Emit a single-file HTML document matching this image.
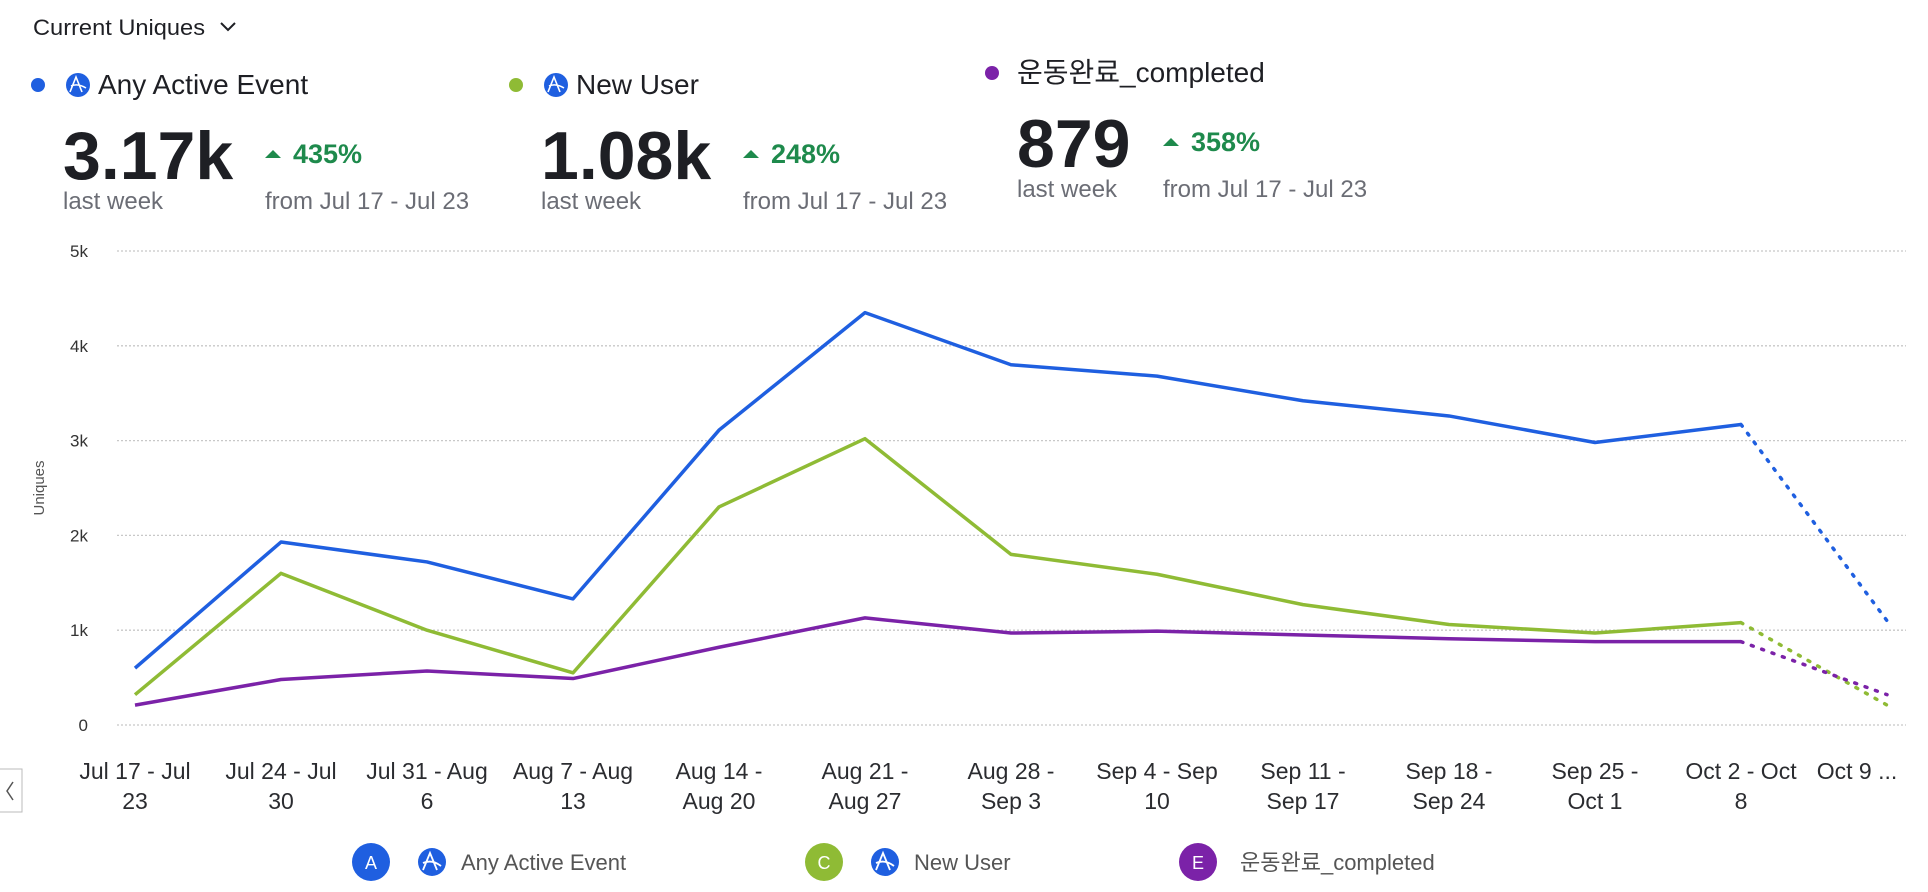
<!DOCTYPE html>
<html><head><meta charset="utf-8">
<style>
html,body{margin:0;padding:0;background:#fff;width:1928px;height:892px;overflow:hidden}
svg text{font-family:"Liberation Sans","Noto Sans CJK KR",sans-serif}
</style></head>
<body>
<svg id="chart" width="1928" height="892" viewBox="0 0 1928 892" xmlns="http://www.w3.org/2000/svg">
  <g>
    <text x="33" y="35" font-size="22" fill="#1e1f24" textLength="172" lengthAdjust="spacingAndGlyphs">Current Uniques</text>
    <path d="M221 23 l7 7 l7 -7" stroke="#1e1f24" stroke-width="2" fill="none"/>
  </g>
  <g id="summary"></g>
  <g id="grid"></g>
  <g id="yaxis"></g>
  <text x="0" y="0" font-size="15" fill="#555" text-anchor="middle" transform="translate(44,488) rotate(-90)">Uniques</text>
  <g id="xaxis"></g>
  <g id="series"></g>
  <g id="legend"></g>
  <g>
    <rect x="-2" y="769" width="24" height="43" fill="#fff" stroke="#bbb"/>
    <path d="M13 782 l-6 9 l6 9" stroke="#555" stroke-width="1.5" fill="none"/>
  </g>
</svg>
<script>
const categories = [["Jul 17 - Jul","23"],["Jul 24 - Jul","30"],["Jul 31 - Aug","6"],["Aug 7 - Aug","13"],["Aug 14 -","Aug 20"],["Aug 21 -","Aug 27"],["Aug 28 -","Sep 3"],["Sep 4 - Sep","10"],["Sep 11 -","Sep 17"],["Sep 18 -","Sep 24"],["Sep 25 -","Oct 1"],["Oct 2 - Oct","8"],["Oct 9 ...",""]];
const anyActive = [600,1930,1720,1330,3110,4350,3800,3680,3420,3260,2980,3170,1100];
const newUser = [320,1600,1000,550,2300,3020,1800,1590,1270,1060,970,1080,210];
const completed = [210,480,570,490,820,1130,970,990,950,910,880,879,320];
const yTicks = [0,1000,2000,3000,4000,5000];
const yTickLabels = ["0","1k","2k","3k","4k","5k"];
const seriesNames = ["Any Active Event","New User","운동완료_completed"];
const seriesLetters = ["A","C","E"];
const summaryValues = ["3.17k","1.08k","879"];
const summaryChanges = ["435%","248%","358%"];
const colors = ["#1f5fe0","#8fbb35","#7b22a8"];

const NS="http://www.w3.org/2000/svg";
const X0=135, X1=1887, Y0=725, Y1=251, YMAX=5000;
function xScale(i){return X0+(X1-X0)*i/(categories.length-1);}
function yScale(v){return Y0-(Y0-Y1)*v/YMAX;}
function mk(tag,attrs,parent){const e=document.createElementNS(NS,tag);for(const k in attrs)e.setAttribute(k,attrs[k]);parent.appendChild(e);return e;}

const summary=document.getElementById('summary');
const offs=[{x:0,y:0},{x:478,y:0},{x:954,y:-12}];
summaryValues.forEach((v,i)=>{
  const o=offs[i];
  const g=mk('g',{},summary);
  
  
  const dot=mk('circle',{cx:38+o.x,cy:85+o.y,r:7,fill:colors[i]},g);
  
  
  if(i<2){
    const ic=mk('g',{},g);
    
    
    mk('circle',{cx:78+o.x,cy:85+o.y,r:12,fill:"#1f5fe0"},ic);
    mk('path',{d:`M${70+o.x} ${92+o.y} L${76+o.x} ${77+o.y} L${82+o.x} ${92+o.y} M${71+o.x} ${86+o.y} Q${78+o.x} ${83+o.y} ${86+o.x} ${88+o.y}`,stroke:"#fff","stroke-width":1.6,fill:"none"},ic);
  }
  const nx = i<2 ? 98+o.x : 1017;
  const t=mk('text',{x:nx,y:94+o.y,"font-size":28,fill:"#1e1f24"},g);t.textContent=seriesNames[i];
  
  
  const bx = i<2 ? 63+o.x : 1017;
  const big=mk('text',{x:bx,y:179+o.y,"font-size":68,"font-weight":"bold",fill:"#1e1f24"},g);big.textContent=v;
  
  
  const px = i===0?265:(i===1?743:1163);
  mk('path',{d:`M${px} ${158+o.y} L${px+8} ${150+o.y} L${px+16} ${158+o.y} Z`,fill:"#1e8a4c"},g);
  const pc=mk('text',{x:px+28,y:163+o.y,"font-size":27,"font-weight":"bold",fill:"#1e8a4c"},g);pc.textContent=summaryChanges[i];
  
  
  const lw=mk('text',{x:bx,y:209+o.y,"font-size":24,fill:"#6b6d75"},g);lw.textContent="last week";
  
  
  const fr=mk('text',{x:px,y:209+o.y,"font-size":24,fill:"#6b6d75"},g);fr.textContent="from Jul 17 - Jul 23";
  
  
});

const grid=document.getElementById('grid'), yaxis=document.getElementById('yaxis');
yTicks.forEach((v,i)=>{
  const l=mk('line',{x1:117,x2:1906,y1:yScale(v),y2:yScale(v),stroke:"#c8c8c8","stroke-width":1.3,"stroke-dasharray":"2 2"},grid);
  
  
  const t=mk('text',{x:88,y:yScale(v)+6,"font-size":17,fill:"#333","text-anchor":"end"},yaxis);
  t.textContent=yTickLabels[i];
  
  
});

const xaxis=document.getElementById('xaxis');
categories.forEach((c,i)=>{
  let cx=xScale(i); if(i===categories.length-1) cx-=30;
  const t=mk('text',{x:cx,y:779,"font-size":23,fill:"#2b2c30","text-anchor":"middle"},xaxis);
  
  
  mk('tspan',{x:cx,dy:0},t).textContent=c[0];
  if(c[1]) mk('tspan',{x:cx,dy:30},t).textContent=c[1];
});

const series=document.getElementById('series');
[anyActive,newUser,completed].forEach((vals,s)=>{
  const n=vals.length;
  const solid=vals.slice(0,n-1).map((v,i)=>`${i?'L':'M'}${xScale(i)} ${yScale(v)}`).join(' ');
  const p=mk('path',{d:solid,stroke:colors[s],"stroke-width":3.5,fill:"none","stroke-linejoin":"round"},series);
  
  
  const d=mk('path',{d:`M${xScale(n-2)} ${yScale(vals[n-2])} L${xScale(n-1)} ${yScale(vals[n-1])}`,stroke:colors[s],"stroke-width":3.5,fill:"none","stroke-dasharray":"2 9","stroke-linecap":"round"},series);
  
  
});

const legend=document.getElementById('legend');
const lx=[371,824,1198];
seriesNames.forEach((nm,i)=>{
  const g=mk('g',{},legend);
  
  
  mk('circle',{cx:lx[i],cy:862,r:19,fill:colors[i]},g);
  mk('text',{x:lx[i],y:869,"font-size":18,fill:"#fff","text-anchor":"middle"},g).textContent=seriesLetters[i];
  let tx=lx[i]+42;
  if(i<2){
    mk('circle',{cx:lx[i]+61,cy:862,r:14,fill:"#1f5fe0"},g);
    mk('path',{d:`M${lx[i]+52} ${870} L${lx[i]+59} ${853} L${lx[i]+66} ${870} M${lx[i]+52} ${863} Q${lx[i]+61} ${859} ${lx[i]+70} ${866}`,stroke:"#fff","stroke-width":1.8,fill:"none"},g);
    tx=lx[i]+90;
  }
  mk('text',{x:tx,y:870,"font-size":22,fill:"#555"},g).textContent=nm;
});
</script>
</body></html>
